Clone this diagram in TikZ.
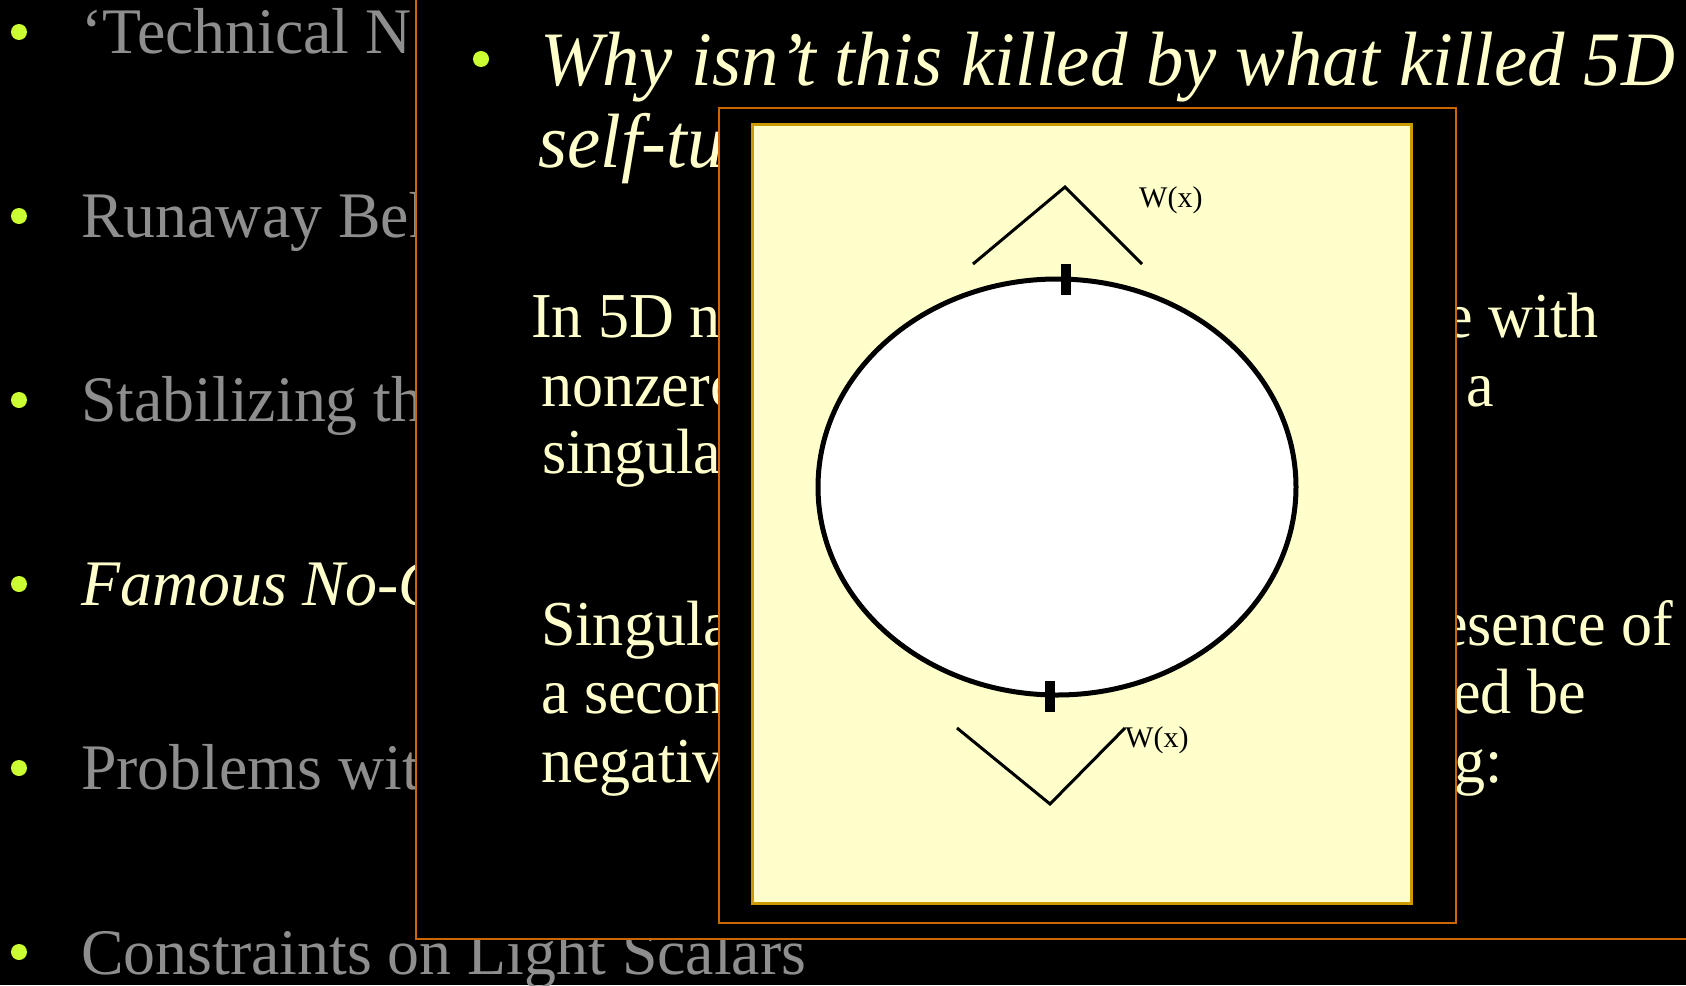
\documentclass[tikz,border=0pt]{standalone}
\usepackage{fontspec}
\setmainfont{Liberation Serif}
\newfontfamily\slidefont[FakeStretch=0.982]{Liberation Serif}
\newfontfamily\bodyfont[FakeStretch=0.97]{Liberation Serif}
\newfontfamily\titlefont[FakeStretch=0.97]{Liberation Serif}
\definecolor{cream}{HTML}{FFFFCC}
\definecolor{gtext}{HTML}{8E8E8E}
\definecolor{lime}{HTML}{CCFF33}
\definecolor{orng}{HTML}{CC6600}
\definecolor{gold}{HTML}{CC9900}
\begin{document}
\begin{tikzpicture}[x=1pt,y=-1pt,
  bulletdot/.style={circle,fill=lime,draw=none,inner sep=0pt,minimum size=16pt},
  listtext/.style={anchor=base west,inner sep=0pt,text=gtext,font=\slidefont\fontsize{65}{78}\selectfont},
  listhi/.style={listtext,text=cream,font=\slidefont\itshape\fontsize{65}{78}\selectfont},
  titletext/.style={anchor=base west,inner sep=0pt,text=cream,font=\titlefont\itshape\fontsize{77}{90}\selectfont},
  bodytext/.style={anchor=base west,inner sep=0pt,text=cream,font=\bodyfont\fontsize{64}{77}\selectfont},
  bodyright/.style={bodytext,anchor=base east},
  panel/.style={fill=black,draw=orng,line width=2pt},
  card/.style={fill=cream,draw=gold,line width=3pt},
  wedge/.style={line width=3pt,line join=miter},
  tick/.style={line width=10pt},
  wlabel/.style={anchor=base west,inner sep=0pt,text=black,font=\fontsize{30}{36}\selectfont}
]
\useasboundingbox (0,0) rectangle (1686,985);
\fill[black] (0,0) rectangle (1686,985);
\clip (0,0) rectangle (1686,985);

% left list
\node[bulletdot] (d1) at (19,32) {};
\node[listtext] (t1) at (81,53) {‘Technical N};
\node[bulletdot] (d2) at (19,216) {};
\node[listtext] (t2) at (81,237) {Runaway Beh};
\node[bulletdot] (d3) at (19,400) {};
\node[listtext] (t3) at (81,421) {Stabilizing the};
\node[bulletdot] (d4) at (19,584) {};
\node[listhi] (t4) at (81,605) {Famous No-Go};
\node[bulletdot] (d5) at (19,768) {};
\node[listtext] (t5) at (81,789) {Problems with};
\node[bulletdot] (d6) at (19,952) {};
\node[listtext] (t6) at (81,974) {Constraints on Light Scalars};

% middle panel
\path[panel] (416,-20) rectangle (1720,939);
\node[bulletdot] (d7) at (481,59) {};
\node[titletext] (h1) at (540,85) {Why isn’t this killed by what killed 5D};
\node[titletext] (h2) at (538,167) {self-tuning};

\node[bodytext] (l1) at (531,337) {In 5D need};
\node[bodyright] (r1) at (1599,337) {e with};
\node[bodytext] (l2) at (541,406) {nonzero};
\node[bodyright] (r2) at (1494,406) {a};
\node[bodytext] (l3) at (542,473) {singular};
\node[bodytext] (l4) at (541,645) {Singular};
\node[bodyright] (r4) at (1673,645) {esence of};
\node[bodytext] (l5) at (541,713) {a second};
\node[bodyright] (r5) at (1586,713) {ed be};
\node[bodytext] (l6) at (541,782) {negative};
\node[bodyright] (r6) at (1503,782) {g:};

% inner figure
\path[panel] (719,108) rectangle (1456,923);
\path[card] (752,124) rectangle (1411,903);
\draw[line width=5pt,fill=white] (1057,487) ellipse [x radius=239, y radius=208];
\draw[tick] (1065.5,264) -- (1065.5,295);
\draw[tick] (1049.5,681) -- (1049.5,712);

\coordinate (a1) at (973,264);
\coordinate (a2) at (1065,187);
\coordinate (a3) at (1142,264);
\draw[wedge] (a1) -- (a2) -- (a3);
\node[wlabel] (w1) at (1139,207) {W(x)};

\coordinate (v1) at (957,728);
\coordinate (v2) at (1050,804);
\coordinate (v3) at (1125,728);
\draw[wedge] (v1) -- (v2) -- (v3);
\node[wlabel] (w2) at (1125,747) {W(x)};
\end{tikzpicture}
\end{document}
